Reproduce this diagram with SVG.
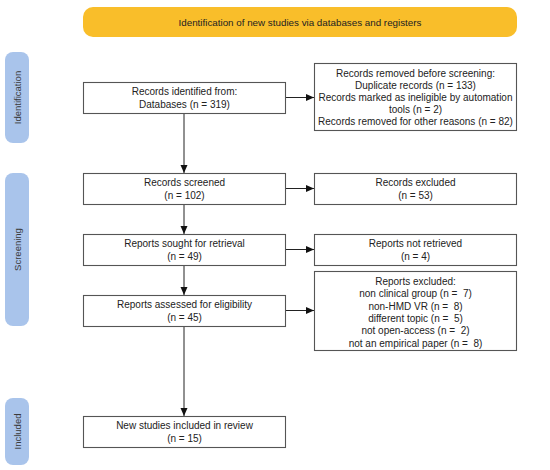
<svg xmlns="http://www.w3.org/2000/svg" width="550" height="470" viewBox="0 0 550 470">
<style>
.box{fill:#fff;stroke:#555;stroke-width:1.1}
.t{font-family:"Liberation Sans",Arial,sans-serif;font-size:10px;fill:#222;text-anchor:middle;white-space:pre}
.pill{fill:#a9c4eb}
.side{font-family:"Liberation Sans",Arial,sans-serif;font-size:9.5px;fill:#3a3a3a;text-anchor:middle}
.ln{stroke:#222;stroke-width:1;fill:none}
</style>
<defs>
<marker id="ah" markerWidth="8" markerHeight="8" refX="8" refY="4" orient="auto" markerUnits="userSpaceOnUse">
<path d="M0,0.5 L8,4 L0,7.5 Z" fill="#111"/>
</marker>
</defs>
<rect width="550" height="470" fill="#fff"/>
<g id="banner">
<rect x="83" y="7" width="434" height="30" rx="10" fill="#f9be2a"/>
<text class="t" x="300" y="25.5" style="font-size:9.8px">Identification of new studies via databases and registers</text>
</g>
<g id="side-identification">
<rect class="pill" x="5" y="52" width="24" height="91" rx="8"/>
<text class="side" transform="translate(20.5,97.5) rotate(-90)">Identification</text>
</g>
<g id="side-screening">
<rect class="pill" x="5" y="173" width="24" height="153" rx="8"/>
<text class="side" transform="translate(20.5,249.5) rotate(-90)">Screening</text>
</g>
<g id="side-included">
<rect class="pill" x="5" y="398" width="24" height="67" rx="8"/>
<text class="side" transform="translate(20.5,431.5) rotate(-90)">Included</text>
</g>
<g id="connectors">
<line class="ln" x1="184" y1="113" x2="184" y2="173" marker-end="url(#ah)"/>
<line class="ln" x1="184" y1="204" x2="184" y2="234" marker-end="url(#ah)"/>
<line class="ln" x1="184" y1="265" x2="184" y2="295" marker-end="url(#ah)"/>
<line class="ln" x1="184" y1="326" x2="184" y2="416" marker-end="url(#ah)"/>
<line class="ln" x1="286" y1="97.5" x2="314" y2="97.5" marker-end="url(#ah)"/>
<line class="ln" x1="286" y1="188.5" x2="314" y2="188.5" marker-end="url(#ah)"/>
<line class="ln" x1="286" y1="249.5" x2="314" y2="249.5" marker-end="url(#ah)"/>
<line class="ln" x1="286" y1="310.5" x2="314" y2="310.5" marker-end="url(#ah)"/>
</g>
<g id="identified">
<rect class="box" x="83.5" y="82.5" width="202" height="31"/>
<text class="t" x="184.5" y="95">Records identified from:</text>
<text class="t" x="184.5" y="107.5">Databases (n = 319)</text>
</g>
<g id="removed">
<rect class="box" x="314.5" y="63.5" width="202" height="67"/>
<text class="t" x="415.5" y="77">Records removed before screening:</text>
<text class="t" x="415.5" y="89">Duplicate records (n = 133)</text>
<text class="t" x="415.5" y="101">Records marked as ineligible by automation</text>
<text class="t" x="415.5" y="113">tools (n = 2)</text>
<text class="t" x="415.5" y="125">Records removed for other reasons (n = 82)</text>
</g>
<g id="screened">
<rect class="box" x="83.5" y="173.5" width="202" height="31"/>
<text class="t" x="184.5" y="186">Records screened</text>
<text class="t" x="184.5" y="198.5">(n = 102)</text>
</g>
<g id="excluded">
<rect class="box" x="314.5" y="173.5" width="202" height="31"/>
<text class="t" x="415.5" y="186">Records excluded</text>
<text class="t" x="415.5" y="198.5">(n = 53)</text>
</g>
<g id="sought">
<rect class="box" x="83.5" y="234.5" width="202" height="31"/>
<text class="t" x="184.5" y="247">Reports sought for retrieval</text>
<text class="t" x="184.5" y="259.5">(n = 49)</text>
</g>
<g id="notretrieved">
<rect class="box" x="314.5" y="234.5" width="202" height="31"/>
<text class="t" x="415.5" y="247">Reports not retrieved</text>
<text class="t" x="415.5" y="259.5">(n = 4)</text>
</g>
<g id="assessed">
<rect class="box" x="83.5" y="295.5" width="202" height="31"/>
<text class="t" x="184.5" y="308">Reports assessed for eligibility</text>
<text class="t" x="184.5" y="320.5">(n = 45)</text>
</g>
<g id="reportsexcluded">
<rect class="box" x="314.5" y="271.5" width="202" height="79"/>
<text class="t" x="415.5" y="284.5">Reports excluded:</text>
<text class="t" x="415.5" y="297">non clinical group (n =  7)</text>
<text class="t" x="415.5" y="309.5">non-HMD VR (n =  8)</text>
<text class="t" x="415.5" y="322">different topic (n =  5)</text>
<text class="t" x="415.5" y="334">not open-access (n =  2)</text>
<text class="t" x="415.5" y="346.5">not an empirical paper (n =  8)</text>
</g>
<g id="included">
<rect class="box" x="83.5" y="416.5" width="202" height="31"/>
<text class="t" x="184.5" y="429">New studies included in review</text>
<text class="t" x="184.5" y="441.5">(n = 15)</text>
</g>
</svg>
